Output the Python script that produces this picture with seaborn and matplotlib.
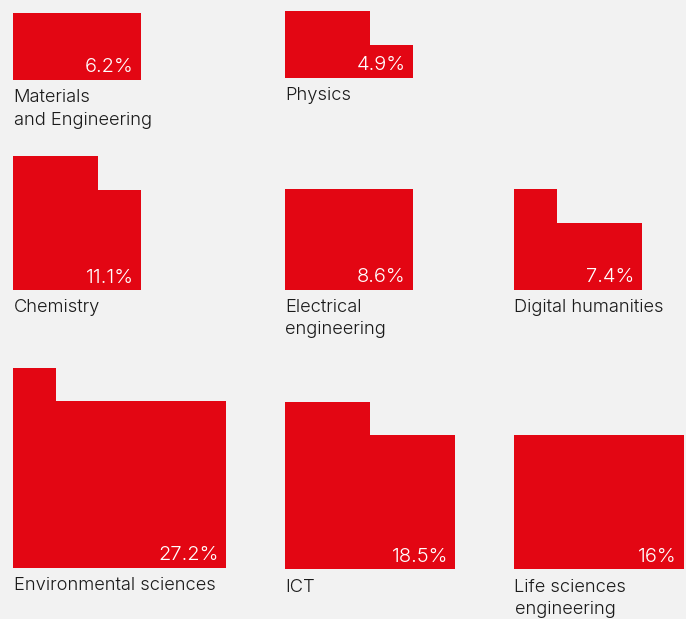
import matplotlib
matplotlib.use("Agg")
import matplotlib.pyplot as plt
import seaborn as sns
import pandas as pd

# ---- data ----
categories = ["Materials\nand Engineering", "Physics", "Chemistry",
              "Electrical\nengineering", "Digital humanities",
              "Environmental sciences", "ICT", "Life sciences\nengineering"]
share_labels = ["6.2%", "4.9%", "11.1%", "8.6%", "7.4%", "27.2%", "18.5%", "16%"]
# column heights (in unit cells) of each stepped shape
materials = [2, 2, 2]
physics = [2, 2, 1]
chemistry = [4, 4, 3]
electrical = [3, 3, 3]
digital = [3, 2, 2]
environmental = [6, 5, 5, 5, 5]
ict = [5, 5, 4, 4]
life = [4, 4, 4, 4]
columns = [materials, physics, chemistry, electrical, digital, environmental, ict, life]

# ---- layout (pixels, origin top-left) ----
W, H, DPI = 686, 619, 100
CELL_W, CELL_H = 42.5, 33.4
panel_left = [13, 285, 13, 285, 514, 13, 285, 514]
panel_bottom = [80, 78, 290, 289.5, 289.5, 568, 569, 569]

RED = "#e30613"
BG = "#f2f2f2"

sns.set_theme(style="white")
plt.rcParams["font.family"] = ["Inter", "DejaVu Sans"]

fig = plt.figure(figsize=(W / DPI, H / DPI), dpi=DPI, facecolor=BG)

for cat, lab, cols, lx, by in zip(categories, share_labels, columns, panel_left, panel_bottom):
    n = len(cols)
    hmax = max(cols)
    w_px = n * CELL_W
    h_px = hmax * CELL_H
    ax = fig.add_axes([lx / W, 1 - by / H, w_px / W, h_px / H])
    df = pd.DataFrame({"col": list(range(n)), "cells": cols})
    sns.barplot(data=df, x="col", y="cells", color=RED, width=1.0,
                saturation=1, linewidth=0, edgecolor="none", ax=ax)
    ax.set_xlim(-0.5, n - 0.5)
    ax.set_ylim(0, hmax)
    ax.axis("off")
    ax.patch.set_alpha(0)
    # percentage label inside shape, bottom-right
    fig.text((lx + w_px - 7) / W, 1 - (by - 7.5) / H, lab, ha="right", va="baseline",
             color="white", fontsize=14.5, fontweight=300)
    # category label below shape
    fig.text((lx + 0.5) / W, 1 - (by + 9.5) / H, cat, ha="left", va="top",
             color="#1a1a1a", fontsize=13.2, fontweight=300, linespacing=1.42)

fig.savefig("out.png", dpi=DPI, facecolor=BG)
